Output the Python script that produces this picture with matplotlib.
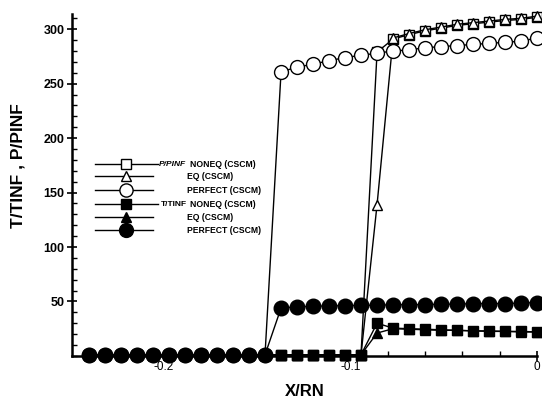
import numpy as np
import matplotlib
matplotlib.use('Agg')
import matplotlib.pyplot as plt
from matplotlib.ticker import MultipleLocator

plt.rcParams['font.family'] = ['Liberation Sans', 'DejaVu Sans']

# x stations along the body (X/RN)
x = [-0.24, -0.2314, -0.2229, -0.2143, -0.2057, -0.1971, -0.1886, -0.18,
     -0.1714, -0.1629, -0.1543, -0.1457, -0.1371, -0.1286, -0.12, -0.1114,
     -0.1029, -0.0943, -0.0857, -0.0771, -0.0686, -0.06, -0.0514, -0.0429,
     -0.0343, -0.0257, -0.0171, -0.0086, 0.0]

# P/PINF
p_noneq = [1] * 18 + [279, 291, 295, 298.5, 301, 303.5, 305, 306.5, 308, 309, 311]
p_eq = [1] * 18 + [139, 292, 296, 299.5, 302, 304.5, 306, 307.5, 309, 310, 312]
p_perfect = [1] * 12 + [261, 265, 268, 271, 274, 276, 278, 280, 281, 283,
                        284, 285, 286, 287, 288, 289, 292]

# T/TINF
t_noneq = [1] * 18 + [30, 25.5, 25, 24.5, 24, 23.5, 23, 23, 22.5, 22.5, 22]
t_eq = [1] * 18 + [21, 25, 24.5, 24, 23.5, 23.5, 23, 22.5, 22.5, 22, 22]
t_perfect = [1] * 12 + [44, 45, 45.5, 46, 46, 46.5, 46.5, 47, 47, 47, 47.5,
                        47.5, 48, 48, 48, 48.5, 49]

series = [
    (p_noneq, 's', 'white', 7.0),
    (p_eq, '^', 'white', 7.5),
    (p_perfect, 'o', 'white', 10.0),
    (t_eq, '^', 'black', 7.5),
    (t_noneq, 's', 'black', 7.0),
    (t_perfect, 'o', 'black', 10.5),
]

fig = plt.figure(figsize=(5.42, 3.99), dpi=100)
ax = fig.add_axes([0.133, 0.108, 0.858, 0.857])

for vals, m, fc, ms in series:
    ax.plot(x, vals, color='black', lw=1.0, marker=m, ms=ms,
            markerfacecolor=fc, markeredgecolor='black', markeredgewidth=1.0,
            clip_on=False)

ax.set_xlim(-0.249, 0)
ax.set_ylim(0, 314)

for s in ['top', 'right']:
    ax.spines[s].set_visible(False)
for s in ['left', 'bottom']:
    ax.spines[s].set_linewidth(1.8)

ax.xaxis.set_major_locator(MultipleLocator(0.1))
ax.xaxis.set_minor_locator(MultipleLocator(0.02))
ax.yaxis.set_major_locator(MultipleLocator(50))
ax.yaxis.set_minor_locator(MultipleLocator(10))
ax.tick_params(which='major', direction='inout', length=7, width=1.2)
ax.tick_params(which='minor', direction='in', length=3.5, width=1.0)
ax.tick_params(axis='y', labelsize=9, pad=2)
ax.tick_params(axis='x', labelsize=8.5, pad=0)
ax.set_yticks([50, 100, 150, 200, 250, 300])
ax.set_xticks([-0.2, -0.1, 0])
ax.set_xticklabels(['-0.2', '-0.1', '0'])
for lab in ax.get_yticklabels():
    lab.set_fontweight('bold')

ax.set_xlabel('X/RN', fontsize=12, fontweight='bold', labelpad=8)
ax.set_ylabel('T/TINF , P/PINF', fontsize=12.5, fontweight='bold')
ax.yaxis.set_label_coords(-0.1, 0.556)

# hand-built legend (key)
rows = [0.561, 0.526, 0.485, 0.444, 0.406, 0.368]
labels = ['NONEQ (CSCM)', 'EQ (CSCM)', 'PERFECT (CSCM)',
          'NONEQ (CSCM)', 'EQ (CSCM)', 'PERFECT (CSCM)']
key_series = [series[0], series[1], series[2], series[4], series[3], series[5]]
for i, (yy, lab, (vals, m, fc, ms)) in enumerate(zip(rows, labels, key_series)):
    x1 = 0.185 if i in (0, 3) else 0.175
    ax.plot([0.049, x1], [yy, yy], color='black', lw=1.0,
            transform=ax.transAxes, clip_on=False)
    ax.plot([0.116], [yy], marker=m, ms=ms * 0.95, markerfacecolor=fc,
            markeredgecolor='black', markeredgewidth=1.0, ls='none',
            transform=ax.transAxes, clip_on=False)
    xt = 0.254 if i in (0, 3) else 0.247
    ax.text(xt, yy, lab, fontsize=6.2, fontweight='bold', va='center',
            transform=ax.transAxes)
ax.text(0.187, rows[0], 'P/PINF', fontsize=6.0, fontweight='bold',
        fontstyle='italic', va='center', transform=ax.transAxes)
ax.text(0.190, rows[3], 'T/TINF', fontsize=6.0, fontweight='bold',
        va='center', transform=ax.transAxes)

fig.savefig('out.png', dpi=100)
